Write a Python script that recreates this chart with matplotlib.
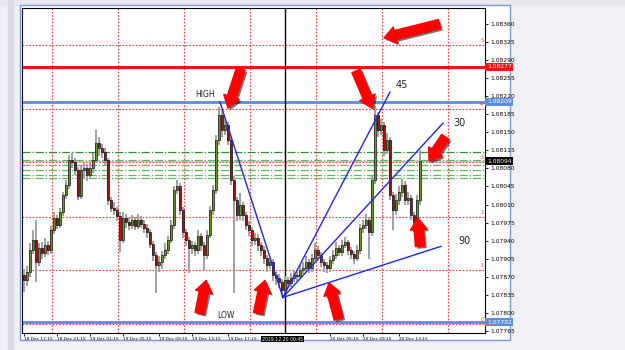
import matplotlib
matplotlib.use('Agg')
import matplotlib.pyplot as plt
import matplotlib.patheffects as pe
from matplotlib.patches import Rectangle

# ---- data ----
first_open = 1.07873
closes = [
    1.07863, 1.07879, 1.07922, 1.07941, 1.07898, 1.07925, 1.07916, 1.07931, 1.07922, 1.07960,
    1.07984, 1.07970, 1.07995, 1.08028, 1.08048, 1.08096, 1.08092, 1.08077, 1.08026, 1.08077,
    1.08081, 1.08067, 1.08081, 1.08096, 1.08129, 1.08119, 1.08112, 1.08096, 1.08019, 1.08003,
    1.07999, 1.07988, 1.07941, 1.07984, 1.07976, 1.07970, 1.07980, 1.07968, 1.07980, 1.07972,
    1.07964, 1.07956, 1.07933, 1.07912, 1.07892, 1.07898, 1.07912, 1.07922, 1.07941, 1.07970,
    1.08038, 1.08046, 1.07999, 1.07956, 1.07941, 1.07925, 1.07931, 1.07922, 1.07949, 1.07931,
    1.07912, 1.07951, 1.07999, 1.08038, 1.08135, 1.08183, 1.08154, 1.08164, 1.08135, 1.08057,
    1.08019, 1.07989, 1.08009, 1.07989, 1.07970, 1.07960, 1.07941, 1.07945, 1.07931, 1.07922,
    1.07906, 1.07892, 1.07898, 1.07873, 1.07867, 1.07859, 1.07844, 1.07863, 1.07858, 1.07867,
    1.07873, 1.07871, 1.07883, 1.07887, 1.07898, 1.07887, 1.07906, 1.07922, 1.07912, 1.07898,
    1.07892, 1.07887, 1.07902, 1.07912, 1.07925, 1.07918, 1.07931, 1.07937, 1.07922, 1.07914,
    1.07906, 1.07922, 1.07964, 1.07970, 1.07980, 1.07956, 1.08057, 1.08183, 1.08154, 1.08164,
    1.08116, 1.08135, 1.08028, 1.07999, 1.08019, 1.08034, 1.08048, 1.08019, 1.08022, 1.07989,
    1.07976, 1.08019, 1.08094,
]
highs = [
    1.07885, 1.07890, 1.07935, 1.07960, 1.07980, 1.07935, 1.07938, 1.07945, 1.07940, 1.07968,
    1.07995, 1.07990, 1.08003, 1.08035, 1.08058, 1.08106, 1.08110, 1.08100, 1.08083, 1.08085,
    1.08090, 1.08088, 1.08092, 1.08110, 1.08154, 1.08140, 1.08128, 1.08120, 1.08100, 1.08025,
    1.08015, 1.08005, 1.07995, 1.07995, 1.07992, 1.07985, 1.07990, 1.07986, 1.07992, 1.07988,
    1.07980, 1.07972, 1.07962, 1.07940, 1.07918, 1.07910, 1.07920, 1.07935, 1.07950, 1.07980,
    1.08045, 1.08057, 1.08052, 1.08005, 1.07962, 1.07948, 1.07940, 1.07938, 1.07960, 1.07955,
    1.07938, 1.07960, 1.08008, 1.08048, 1.08145, 1.08199, 1.08193, 1.08178, 1.08170, 1.08140,
    1.08065, 1.08025, 1.08032, 1.08015, 1.07995, 1.07978, 1.07966, 1.07955, 1.07952, 1.07938,
    1.07930, 1.07912, 1.07908, 1.07905, 1.07880, 1.07875, 1.07865, 1.07872, 1.07870, 1.07878,
    1.07882, 1.07880, 1.07892, 1.07898, 1.07910, 1.07905, 1.07915, 1.07935, 1.07930, 1.07918,
    1.07905, 1.07898, 1.07910, 1.07922, 1.07938, 1.07932, 1.07942, 1.07948, 1.07942, 1.07928,
    1.07920, 1.07932, 1.07972, 1.07980, 1.07992, 1.07985, 1.08065, 1.08201, 1.08190, 1.08176,
    1.08170, 1.08148, 1.08140, 1.08035, 1.08030, 1.08045, 1.08060, 1.08055, 1.08035, 1.08028,
    1.07995, 1.08028, 1.08116,
]
lows = [
    1.07840, 1.07852, 1.07870, 1.07915, 1.07859, 1.07890, 1.07905, 1.07908, 1.07912, 1.07915,
    1.07952, 1.07962, 1.07965, 1.07988, 1.08020, 1.08040, 1.08080, 1.08068, 1.08019, 1.08020,
    1.08060, 1.08055, 1.08060, 1.08072, 1.08090, 1.08105, 1.08100, 1.08085, 1.08010, 1.07995,
    1.07990, 1.07978, 1.07918, 1.07935, 1.07965, 1.07960, 1.07962, 1.07960, 1.07962, 1.07965,
    1.07955, 1.07945, 1.07925, 1.07900, 1.07838, 1.07880, 1.07885, 1.07905, 1.07915, 1.07935,
    1.07962, 1.08030, 1.07990, 1.07945, 1.07930, 1.07877, 1.07915, 1.07910, 1.07915, 1.07920,
    1.07883, 1.07905, 1.07945, 1.07990, 1.08030, 1.08125, 1.08140, 1.08145, 1.08125, 1.08048,
    1.07838, 1.07978, 1.07980, 1.07978, 1.07960, 1.07950, 1.07930, 1.07932, 1.07920, 1.07910,
    1.07895, 1.07880, 1.07885, 1.07862, 1.07855, 1.07848, 1.07830, 1.07838, 1.07848, 1.07850,
    1.07860, 1.07862, 1.07865, 1.07875, 1.07880, 1.07878, 1.07880, 1.07900, 1.07905, 1.07888,
    1.07880, 1.07877, 1.07880, 1.07895, 1.07905, 1.07910, 1.07910, 1.07925, 1.07912, 1.07905,
    1.07895, 1.07900, 1.07915, 1.07955, 1.07962, 1.07905, 1.07950, 1.08050, 1.08140, 1.08145,
    1.08105, 1.08108, 1.08019, 1.07960, 1.07990, 1.08010, 1.08025, 1.08010, 1.08010, 1.07980,
    1.07966, 1.07970, 1.08010,
]

red_line = 1.08277
blue_lines = [1.08209, 1.07782]
bid_price = 1.08094
fib_levels = [1.07778, 1.07883, 1.07986, 1.08092, 1.08195, 1.08319]
fib_names = ['0', '1', '2', '3', '4', '5']
green_levels = [1.08112, 1.08096, 1.08086, 1.08077, 1.08067, 1.08061]

# trend lines in candle index / price
high_point = (65.3, 1.08209)
low_point = (86.3, 1.07830)
fan_ends = [(122.0, 1.08228), (139.7, 1.08168), (139.0, 1.07929)]
fan_names = ['45', '30', '90']
fan_label_pos = [(123.7, 1.08242), (143.0, 1.08168), (144.7, 1.07939)]

# arrows: (tail_x, tail_p, head_x, head_p)
arrows = [
    (138.5, 1.08360, 120.0, 1.08333),
    (72.3, 1.08273, 68.0, 1.08197),
    (110.7, 1.08269, 116.0, 1.08197),
    (140.5, 1.08141, 135.0, 1.08094),
    (132.0, 1.07929, 131.3, 1.07984),
    (58.5, 1.07799, 60.7, 1.07863),
    (78.0, 1.07799, 80.3, 1.07863),
    (104.9, 1.07788, 101.7, 1.07858),
]

time_ticks = [0, 11, 22, 33, 45, 56, 68, 102, 113, 125]
time_labels = ['18 Dec 17:15', '18 Dec 21:15', '19 Dec 01:15', '19 Dec 05:15',
               '19 Dec 09:15', '19 Dec 13:15', '19 Dec 17:15', '20 Dec 05:15',
               '20 Dec 09:15', '20 Dec 13:15']
cursor_index = 87
cursor_label = '2019.12.20 00:45'

price_ticks = [1.07765, 1.07800, 1.07835, 1.07870, 1.07905, 1.07940, 1.07975,
               1.08010, 1.08045, 1.08080, 1.08115, 1.08150, 1.08185, 1.08220,
               1.08255, 1.08290, 1.08325, 1.08360]

W, H = 625, 350
fig = plt.figure(figsize=(W / 100, H / 100), dpi=100)

# terminal window background in pixel coordinates
bg = fig.add_axes([0, 0, 1, 1])
bg.set_xlim(0, W)
bg.set_ylim(H, 0)
bg.axis('off')
bg.add_patch(Rectangle((0, 0), W, H, color='#eff1f6'))
bg.add_patch(Rectangle((0, 0), W, 5, color='#e6e8ed'))
bg.add_patch(Rectangle((8, 0), 5, H, color='#d6dae3'))
bg.add_patch(Rectangle((20, 5), 490, 335, facecolor='white',
                       edgecolor='#7d98cf', lw=1))

ax = fig.add_axes([22 / W, 1 - 333 / H, (485 - 22) / W, (333 - 8) / H])
ax.set_facecolor('white')
ax.set_xlim(-0.67, 153.67)
ax.set_ylim(1.07761, 1.08391)
for s in ax.spines.values():
    s.set_color('black')
    s.set_linewidth(0.8)

dot = (0, (1.5, 1.5))
for k in range(7):
    ax.axvline(9.33 + 22 * k, color='#ff3b3b', lw=0.8, ls=dot, zorder=1)
for lv, nm in zip(fib_levels, fib_names):
    ax.axhline(lv, color='#ff3b3b', lw=0.8, ls=dot, zorder=1)
    ax.text(152.6, lv + 0.00004, nm, color='#ff3b3b', fontsize=3.5,
            ha='center', va='bottom')
ax.axhline(bid_price, color='#c8c8c8', lw=0.8, zorder=1)
for i, g in enumerate(green_levels):
    ax.axhline(g, color='#2f8f2f' if i == 0 else '#5cb85c', lw=0.9,
               ls='-.', zorder=1)
ax.axhline(red_line, color='#ff1010', lw=2.2, zorder=2)
for b in blue_lines:
    ax.axhline(b, color='#5b8ed8', lw=2.0, zorder=2)
ax.axvline(cursor_index, color='black', lw=1.0, zorder=2)

# candles
opens = [first_open] + closes[:-1]
for i, (o, h, l, c) in enumerate(zip(opens, highs, lows, closes)):
    ax.plot([i, i], [l, h], color='#a0a0a0', lw=1.4, zorder=3,
            solid_capstyle='butt')
    face = '#6a9a28' if c >= o else '#9e1a1a'
    bottom = min(o, c)
    height = max(abs(c - o), 0.000015)
    ax.add_patch(Rectangle((i - 0.33, bottom), 0.66, height, facecolor=face,
                           edgecolor='black', lw=0.45, zorder=4))

# trend lines
ax.plot([high_point[0], low_point[0]], [high_point[1], low_point[1]],
        color='#1c28e6', lw=1.0, zorder=5)
for (ex, ep), nm, (tx, tp) in zip(fan_ends, fan_names, fan_label_pos):
    ax.plot([low_point[0], ex], [low_point[1], ep], color='#1c28e6', lw=1.0,
            zorder=5)
    ax.text(tx, tp, nm, fontsize=7, color='#222222', ha='left', va='center')
ax.text(60.3, 1.08223, 'HIGH', fontsize=5.5, color='#222222', ha='center',
        va='center')
ax.text(67.3, 1.07795, 'LOW', fontsize=5.5, color='#222222', ha='center',
        va='center')

# red arrows
shadow = [pe.SimplePatchShadow(offset=(1.5, -1.5), shadow_rgbFace='black',
                               alpha=0.55), pe.Normal()]
for tx, tp, hx, hp in arrows:
    ax.annotate('', xy=(hx, hp), xytext=(tx, tp),
                arrowprops=dict(arrowstyle='simple,head_length=0.7,'
                                'head_width=1.0,tail_width=0.55',
                                color='#ff0000', mutation_scale=12,
                                shrinkA=0, shrinkB=0,
                                path_effects=shadow), zorder=6)

# axes ticks
ax.yaxis.tick_right()
ax.set_yticks(price_ticks)
ax.set_yticklabels(['%.5f' % p for p in price_ticks])
ax.tick_params(axis='y', length=2, width=0.6, labelsize=4.3, pad=1.5)
ax.set_xticks(time_ticks)
ax.set_xticklabels(time_labels, ha='left')
ax.tick_params(axis='x', length=2, width=0.6, labelsize=3.1, pad=1)

# highlighted price labels
for p, fc in [(red_line, '#ff1010'), (blue_lines[0], '#5b8ed8'),
              (bid_price, 'black'), (blue_lines[1], '#5b8ed8')]:
    ax.text(1.004, p, '%.5f' % p, transform=ax.get_yaxis_transform(),
            fontsize=4.3, color='white', ha='left', va='center',
            bbox=dict(boxstyle='square,pad=0.25', fc=fc, ec='none'),
            zorder=10, clip_on=False)
ax.text(cursor_index - 0.7, -0.011, cursor_label,
        transform=ax.get_xaxis_transform(), fontsize=3.3, color='white',
        ha='center', va='top',
        bbox=dict(boxstyle='square,pad=0.2', fc='black', ec='none'),
        clip_on=False, zorder=10)

# header texts
header = [('ADR:', 'black', 26), ('87.8%', '#f39c12', 44), ('|', 'black', 66),
          ('Today:', 'black', 69), ('37', '#2ca02c', 91), ('|', 'black', 102),
          ('10 Day:', 'black', 106), ('42', '#2ca02c', 133), ('|', 'black', 143),
          ('20 Day:', 'black', 152), ('43', '#2ca02c', 177)]
for txt, col, px in header:
    bg.text(px, 11, txt, fontsize=4.2, color=col, ha='left', va='center')
bg.text(480, 13, 'ButtonCloseBuySell ☺', fontsize=4.2, color='black',
        ha='right', va='center')

fig.savefig('out.png', dpi=100)
